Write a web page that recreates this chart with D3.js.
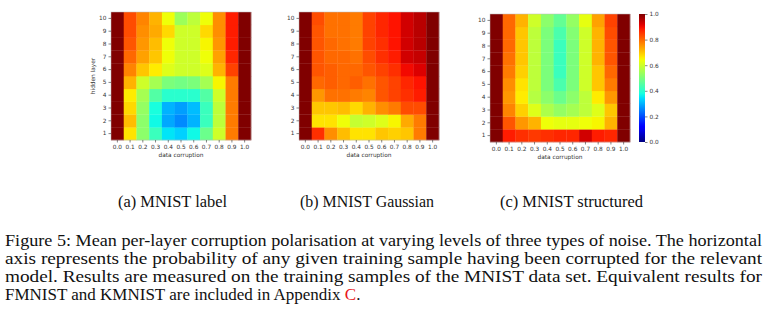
<!DOCTYPE html>
<html>
<head>
<meta charset="utf-8">
<script src="https://cdn.jsdelivr.net/npm/d3@7"></script>
<style>
  body { margin: 0; background: #fff; }
  .tick text { font-family: "DejaVu Sans", sans-serif; font-size: 5.8px; fill: #333; }
  .tick line { stroke: #333; stroke-width: 0.6; }
  .domain { display: none; }
</style>
</head>
<body>
<div id="chart"></div>
<script>
var width = 772, height = 320;

// x = data corruption, y = hidden layer (rows listed layer 1 -> layer 10)
var corruption = [0.0, 0.1, 0.2, 0.3, 0.4, 0.5, 0.6, 0.7, 0.8, 0.9, 1.0];
var layers = [1, 2, 3, 4, 5, 6, 7, 8, 9, 10];
var colorTicks = [0.0, 0.2, 0.4, 0.6, 0.8, 1.0];

var labelNoise = [
  [1.0, 0.67, 0.52, 0.42, 0.35, 0.33, 0.37, 0.48, 0.60, 0.78, 1.0],
  [1.0, 0.71, 0.52, 0.37, 0.29, 0.26, 0.30, 0.42, 0.58, 0.78, 1.0],
  [1.0, 0.68, 0.53, 0.38, 0.30, 0.28, 0.31, 0.42, 0.58, 0.78, 1.0],
  [1.0, 0.66, 0.55, 0.45, 0.40, 0.40, 0.40, 0.45, 0.60, 0.78, 1.0],
  [1.0, 0.72, 0.60, 0.55, 0.50, 0.49, 0.50, 0.55, 0.65, 0.78, 1.0],
  [1.0, 0.77, 0.70, 0.66, 0.62, 0.60, 0.60, 0.62, 0.72, 0.84, 1.0],
  [1.0, 0.80, 0.74, 0.70, 0.64, 0.60, 0.60, 0.64, 0.74, 0.87, 1.0],
  [1.0, 0.82, 0.75, 0.71, 0.64, 0.60, 0.60, 0.65, 0.75, 0.88, 1.0],
  [1.0, 0.83, 0.76, 0.73, 0.68, 0.60, 0.60, 0.68, 0.76, 0.88, 1.0],
  [1.0, 0.83, 0.77, 0.72, 0.64, 0.54, 0.58, 0.64, 0.76, 0.88, 1.0]
];

var gaussianNoise = [
  [1.0, 0.86, 0.76, 0.71, 0.67, 0.67, 0.70, 0.69, 0.70, 0.78, 1.0],
  [1.0, 0.67, 0.67, 0.64, 0.59, 0.60, 0.62, 0.65, 0.73, 0.78, 1.0],
  [1.0, 0.70, 0.70, 0.71, 0.68, 0.72, 0.76, 0.78, 0.83, 0.83, 1.0],
  [1.0, 0.75, 0.79, 0.79, 0.78, 0.77, 0.82, 0.84, 0.86, 0.88, 1.0],
  [1.0, 0.80, 0.81, 0.80, 0.81, 0.79, 0.82, 0.84, 0.87, 0.89, 1.0],
  [1.0, 0.82, 0.81, 0.80, 0.80, 0.82, 0.84, 0.86, 0.90, 0.92, 1.0],
  [1.0, 0.82, 0.80, 0.80, 0.79, 0.83, 0.86, 0.88, 0.93, 0.94, 1.0],
  [1.0, 0.82, 0.80, 0.79, 0.78, 0.84, 0.86, 0.89, 0.93, 0.95, 1.0],
  [1.0, 0.82, 0.79, 0.79, 0.78, 0.84, 0.87, 0.89, 0.93, 0.95, 1.0],
  [1.0, 0.83, 0.79, 0.79, 0.78, 0.84, 0.87, 0.89, 0.93, 0.95, 1.0]
];

var structuredNoise = [
  [1.0, 0.88, 0.86, 0.85, 0.86, 0.87, 0.87, 0.93, 0.88, 0.87, 1.0],
  [1.0, 0.82, 0.75, 0.72, 0.64, 0.63, 0.63, 0.64, 0.65, 0.72, 1.0],
  [1.0, 0.77, 0.69, 0.62, 0.56, 0.53, 0.55, 0.58, 0.62, 0.70, 1.0],
  [1.0, 0.75, 0.66, 0.57, 0.52, 0.48, 0.52, 0.58, 0.66, 0.75, 1.0],
  [1.0, 0.76, 0.67, 0.58, 0.50, 0.44, 0.50, 0.60, 0.70, 0.78, 1.0],
  [1.0, 0.78, 0.69, 0.58, 0.50, 0.42, 0.50, 0.60, 0.70, 0.80, 1.0],
  [1.0, 0.79, 0.70, 0.58, 0.50, 0.42, 0.50, 0.60, 0.72, 0.82, 1.0],
  [1.0, 0.80, 0.70, 0.58, 0.50, 0.42, 0.50, 0.60, 0.72, 0.82, 1.0],
  [1.0, 0.80, 0.70, 0.58, 0.50, 0.44, 0.51, 0.60, 0.72, 0.83, 1.0],
  [1.0, 0.80, 0.72, 0.60, 0.52, 0.47, 0.53, 0.63, 0.74, 0.84, 1.0]
];

var subCaptions = ["(a) MNIST label", "(b) MNIST Gaussian", "(c) MNIST structured"];
var captionLines = [
  "Figure 5: Mean per-layer corruption polarisation at varying levels of three types of noise.  The horizontal",
  "axis represents the probability of any given training sample having been corrupted for the relevant",
  "model.  Results are measured on the training samples of the MNIST data set.  Equivalent results for",
  "FMNIST and KMNIST are included in Appendix "
];

// matplotlib "jet" built from linear scales per channel
var jetR = d3.scaleLinear().domain([0, 0.35, 0.66, 0.89, 1]).range([0, 0, 1, 1, 0.5]).clamp(true);
var jetG = d3.scaleLinear().domain([0, 0.125, 0.375, 0.64, 0.91, 1]).range([0, 0, 1, 1, 0, 0]).clamp(true);
var jetB = d3.scaleLinear().domain([0, 0.11, 0.34, 0.65, 1]).range([0.5, 1, 1, 0, 0]).clamp(true);
function jet(v) {
  return d3.rgb(jetR(v) * 255, jetG(v) * 255, jetB(v) * 255).toString();
}

var svg = d3.select('#chart')
    .append('svg')
    .attr('width', width)
    .attr('height', height)
    .style('font-family', '"Liberation Serif", serif');

var panels = [
  {data: labelNoise, x0: 111, y0: 12, ylabel: true},
  {data: gaussianNoise, x0: 299, y0: 12, ylabel: false},
  {data: structuredNoise, x0: 490, y0: 14, ylabel: false}
];
var plotW = 140, plotH = 128;

panels.forEach(function(p){
  var x = d3.scaleBand().domain(corruption).range([0, plotW]);
  var y = d3.scaleBand().domain(layers).range([plotH, 0]);

  var g = svg.append('g').attr('transform', 'translate(' + p.x0 + ',' + p.y0 + ')');

  var cells = [];
  p.data.forEach(function(row, i){
    row.forEach(function(v, j){
      cells.push({layer: layers[i], c: corruption[j], v: v});
    });
  });

  g.selectAll('rect.cell')
    .data(cells)
    .enter()
    .append('rect')
    .attr('class', 'cell')
    .attr('x', function(d){ return x(d.c) })
    .attr('y', function(d){ return y(d.layer) })
    .attr('width', x.bandwidth() + 0.3)
    .attr('height', y.bandwidth() + 0.3)
    .attr('fill', function(d){ return jet(d.v) });

  g.append('rect')
    .attr('width', plotW)
    .attr('height', plotH)
    .attr('fill', 'none')
    .attr('stroke', '#bbb')
    .attr('stroke-width', 0.5);

  g.append('g')
    .attr('transform', 'translate(0,' + plotH + ')')
    .call(d3.axisBottom(x).tickSize(2.5).tickPadding(2.5).tickFormat(d3.format('.1f')));

  g.append('g')
    .call(d3.axisLeft(y).tickSize(2.5).tickPadding(2));

  g.append('text')
    .attr('x', plotW / 2)
    .attr('y', plotH + 17)
    .attr('text-anchor', 'middle')
    .style('font-family', '"DejaVu Sans", sans-serif')
    .style('font-size', '5.8px')
    .attr('fill', '#333')
    .text('data corruption');

  if (p.ylabel) {
    g.append('text')
      .attr('transform', 'translate(-16,' + (plotH / 2) + ') rotate(-90)')
      .attr('text-anchor', 'middle')
      .style('font-family', '"DejaVu Sans", sans-serif')
      .style('font-size', '5.8px')
      .attr('fill', '#333')
      .text('hidden layer');
  }
});

// colorbar
var cb = svg.append('g').attr('transform', 'translate(639,14)');
var cbScale = d3.scaleLinear().domain([0, 1]).range([plotH, 0]);
var grad = svg.append('defs').append('linearGradient')
    .attr('id', 'jetgrad')
    .attr('x1', 0).attr('y1', 1).attr('x2', 0).attr('y2', 0);
grad.selectAll('stop')
    .data(d3.range(0, 1.0001, 0.02))
    .enter()
    .append('stop')
    .attr('offset', function(d){ return d })
    .attr('stop-color', function(d){ return jet(d) });
cb.append('rect')
    .attr('width', 6)
    .attr('height', plotH)
    .attr('fill', 'url(#jetgrad)');
cb.append('g')
    .attr('transform', 'translate(6,0)')
    .call(d3.axisRight(cbScale).tickValues(colorTicks).tickSize(2.5).tickPadding(2).tickFormat(d3.format('.1f')));

// sub captions (left edge + width)
var subX = [118, 300, 500], subW = [109, 134, 143];
svg.selectAll('text.sub')
    .data(subCaptions)
    .enter()
    .append('text')
    .attr('class', 'sub')
    .attr('x', function(d, i){ return subX[i] })
    .attr('y', 207)
    .attr('textLength', function(d, i){ return subW[i] })
    .attr('lengthAdjust', 'spacingAndGlyphs')
    .style('font-size', '16px')
    .attr('fill', '#111')
    .text(function(d){ return d });

// figure caption, justified lines
var lineY = [246, 264, 282, 300];
captionLines.forEach(function(line, i){
  var t = svg.append('text')
    .attr('x', 5)
    .attr('y', lineY[i])
    .style('font-size', '17px')
    .attr('fill', '#111');
  if (i < 3) {
    t.attr('textLength', 757).attr('lengthAdjust', 'spacingAndGlyphs').text(line);
  } else {
    t.append('tspan').text(line);
    t.append('tspan').attr('fill', '#e8161a').text('C');
    t.append('tspan').text('.');
  }
});
</script>
</body>
</html>
